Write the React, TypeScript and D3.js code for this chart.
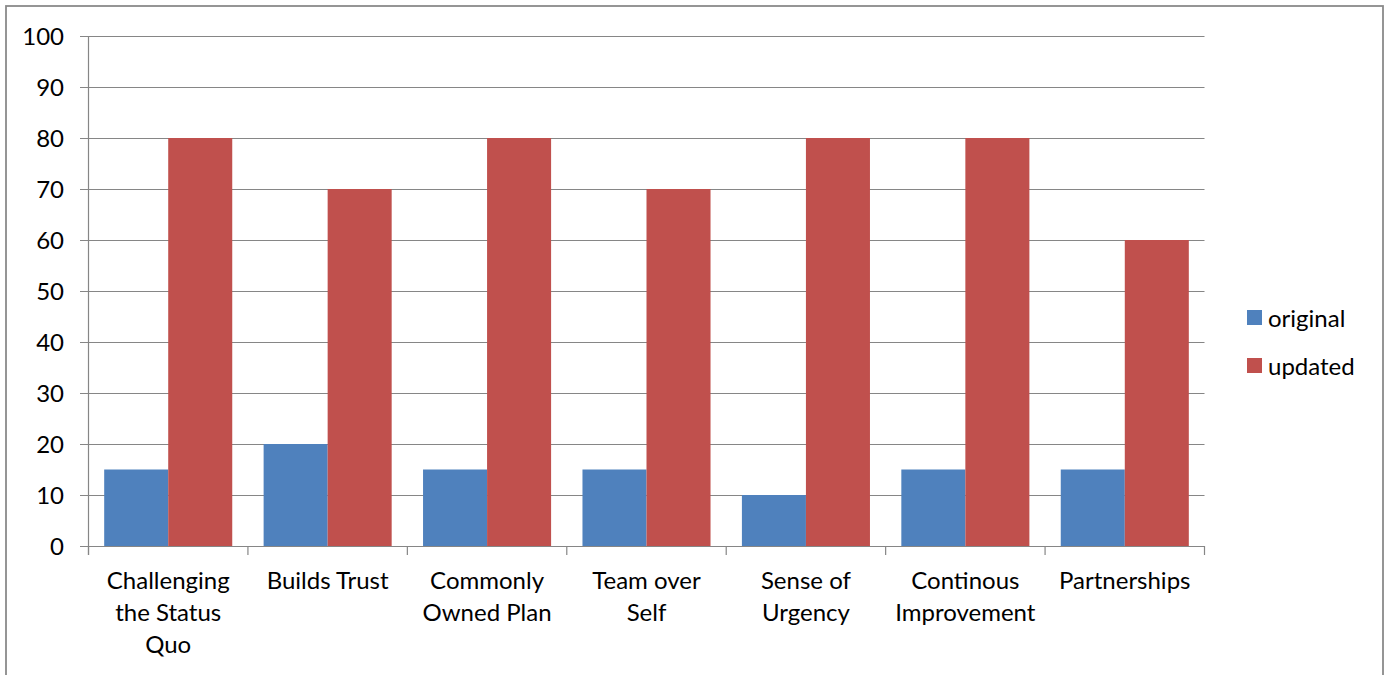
import React from "react";
import * as d3 from "d3";

const categories = [
  "Challenging\nthe Status\nQuo",
  "Builds Trust",
  "Commonly\nOwned Plan",
  "Team over\nSelf",
  "Sense of\nUrgency",
  "Continous\nImprovement",
  "Partnerships",
];
const original = [15, 20, 15, 15, 10, 15, 15];
const updated = [80, 70, 80, 70, 80, 80, 60];
const seriesNames = ["original", "updated"];
const seriesColors = ["#4F81BD", "#C0504D"];
const yTicks = [0, 10, 20, 30, 40, 50, 60, 70, 80, 90, 100];

const W = 1384;
const H = 675;
const FONT = "Lato, 'Open Sans', sans-serif";
const AXIS = "#868686";
const FS = 24;

export default function App() {
  const left = 88.5;
  const right = 1204.5;
  const top = 36;
  const bottom = 546;

  const x0 = d3.scaleBand<string>().domain(categories).range([left, right]).paddingInner(0).paddingOuter(0);
  const x1 = d3
    .scaleBand<string>()
    .domain(seriesNames)
    .range([0, x0.bandwidth()])
    .paddingOuter(0.245)
    .paddingInner(0);
  const y = d3.scaleLinear().domain([0, 100]).range([bottom, top]);
  const values = [original, updated];

  return (
    <svg
      width={W}
      height={H}
      style={{ position: "absolute", left: 0, top: 0, background: "#fff" }}
      fontFamily={FONT}
    >
      <rect x={6} y={6} width={1377} height={700} fill="#fff" stroke="#8a8a8a" strokeWidth={1.8} />

      {/* horizontal gridlines and y ticks */}
      {yTicks.map((t) => (
        <g key={t}>
          <line x1={80} x2={right} y1={Math.round(y(t)) + 0.5} y2={Math.round(y(t)) + 0.5} stroke={AXIS} strokeWidth={1.2} />
          <text x={64} y={y(t)} dy="0.36em" textAnchor="end" fontSize={FS} fill="#000">
            {t}
          </text>
        </g>
      ))}

      {/* bars */}
      {categories.map((c, i) =>
        seriesNames.map((s, j) => (
          <rect
            key={c + s}
            x={(x0(c) as number) + (x1(s) as number)}
            y={y(values[j][i])}
            width={x1.bandwidth()}
            height={bottom - y(values[j][i])}
            fill={seriesColors[j]}
          />
        ))
      )}

      {/* axes */}
      <line x1={left} x2={left} y1={top} y2={bottom + 9} stroke={AXIS} strokeWidth={1.2} />
      <line x1={left} x2={right} y1={bottom + 0.5} y2={bottom + 0.5} stroke={AXIS} strokeWidth={1.2} />
      {d3.range(categories.length + 1).map((k) => {
        const xx = left + k * x0.bandwidth();
        return <line key={k} x1={xx} x2={xx} y1={bottom} y2={bottom + 9} stroke={AXIS} strokeWidth={1.2} />;
      })}

      {/* category labels */}
      {categories.map((c) => {
        const cx = (x0(c) as number) + x0.bandwidth() / 2;
        return (
          <text key={c} x={cx} y={589} textAnchor="middle" fontSize={FS} fill="#000">
            {c.split("\n").map((line, k) => (
              <tspan key={k} x={cx} dy={k === 0 ? 0 : 32}>
                {line}
              </tspan>
            ))}
          </text>
        );
      })}

      {/* legend */}
      {seriesNames.map((s, j) => (
        <g key={s} transform={`translate(1247, ${310 + j * 48})`}>
          <rect width={15} height={15} fill={seriesColors[j]} />
          <text x={21} y={8} dy="0.36em" fontSize={FS} fill="#000">
            {s}
          </text>
        </g>
      ))}
    </svg>
  );
}
